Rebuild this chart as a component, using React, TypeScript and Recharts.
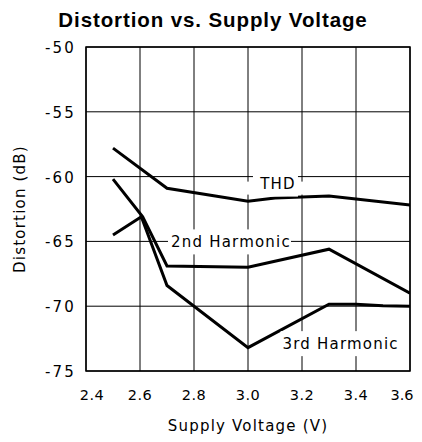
import React from 'react';
import { LineChart, Line, XAxis, YAxis, CartesianGrid, ReferenceArea, ReferenceDot } from 'recharts';

const xTicks = [2.4, 2.6, 2.8, 3.0, 3.2, 3.4, 3.6];
const yTicks = [-75, -70, -65, -60, -55, -50];

const thdX = [2.5, 2.7, 3.0, 3.1, 3.3, 3.6];
const thdY = [-57.8, -60.9, -61.9, -61.65, -61.5, -62.2];

const h2X = [2.5, 2.61, 2.7, 3.0, 3.3, 3.6];
const h2Y = [-60.2, -63.1, -66.9, -67.0, -65.6, -69.0];

const h3X = [2.5, 2.605, 2.7, 3.0, 3.3, 3.4, 3.5, 3.6];
const h3Y = [-64.5, -63.1, -68.4, -73.2, -69.85, -69.85, -69.97, -70.0];

const labelNames = ['THD', '2nd Harmonic', '3rd Harmonic'];
const labelX = [3.111, 2.937, 3.343];
const labelY = [-60.54, -65.0, -72.85];

const toData = (xs: number[], ys: number[]) => xs.map((x, i) => ({ x, y: ys[i] }));
const thdData = toData(thdX, thdY);
const h2Data = toData(h2X, h2Y);
const h3Data = toData(h3X, h3Y);

const FONT = "'DejaVu Sans', sans-serif";
const textStyle = { fontFamily: FONT, fontSize: 15, letterSpacing: 1.2, fill: '#000' } as const;

const XTick = (p: any) => {
  const v = p.payload.value;
  const isFirst = Math.abs(v - 2.4) < 1e-6;
  const isLast = Math.abs(v - 3.6) < 1e-6;
  const style = { ...textStyle, fontSize: 14.5, letterSpacing: isLast ? 0 : 0.4 };
  if (isLast) {
    return (
      <text x={p.x + 3.5} y={p.y} dy={29} textAnchor="end" style={style}>
        {Number(v).toFixed(1)}
      </text>
    );
  }
  return (
    <text x={p.x + (isFirst ? 6 : 0)} y={p.y} dy={29} textAnchor="middle" style={style}>
      {Number(v).toFixed(1)}
    </text>
  );
};

const YTick = (p: any) => (
  <text x={p.x + 1} y={p.y} dy={6} textAnchor="end" style={{ ...textStyle, letterSpacing: 2.2 }}>
    {String(p.payload.value)}
  </text>
);

const labelRects: Array<Array<[number, number, number, number]>> = [
  [[-25, -11, 45, 24], [-33, -2, 60, 13]],
  [[-63, -12, 123, 25]],
  [[-60, -12, 121, 25]],
];

const makeLabel = (idx: number) => (p: any) => {
  const cx = p.cx;
  const cy = p.cy;
  return (
    <g>
      {labelRects[idx].map((r, i) => (
        <rect key={i} x={cx + r[0]} y={cy + r[1]} width={r[2]} height={r[3]} fill="#fff" />
      ))}
      <text x={cx} y={cy} dy={5.5} textAnchor="middle" style={textStyle}>
        {labelNames[idx]}
      </text>
    </g>
  );
};

export default function App() {
  return (
    <div style={{ position: 'relative', width: 414, height: 426, overflow: 'visible' }}>
      <style>{`.recharts-wrapper, .recharts-surface { overflow: visible !important; }`}</style>
      <div
        style={{
          position: 'absolute',
          top: 1,
          left: -2,
          width: 414,
          textAlign: 'center',
          fontFamily: "'Liberation Sans', Arial, sans-serif",
          fontWeight: 'bold',
          fontSize: 20.5,
          lineHeight: '21px',
          letterSpacing: 0.9,
          color: '#000',
        }}
      >
        Distortion vs. Supply Voltage
      </div>
      <div
        style={{
          position: 'absolute',
          left: 11.5,
          top: 200.5,
          transform: 'translate(-50%, -50%) rotate(-90deg)',
          whiteSpace: 'nowrap',
          fontFamily: FONT,
          fontSize: 15,
          lineHeight: '15px',
          letterSpacing: 1.2,
          color: '#000',
        }}
      >
        Distortion (dB)
      </div>
      <div
        style={{
          position: 'absolute',
          left: 240,
          top: 411,
          transform: 'translateX(-50%)',
          whiteSpace: 'nowrap',
          fontFamily: FONT,
          fontSize: 15,
          lineHeight: '15px',
          letterSpacing: 1.2,
          color: '#000',
        }}
      >
        Supply Voltage (V)
      </div>
      <LineChart width={414} height={426} margin={{ top: 39, right: 12, left: 0, bottom: 33 }} style={{ overflow: 'visible' }}>
        <CartesianGrid stroke="#000" strokeWidth={1} />
        <XAxis
          type="number"
          dataKey="x"
          domain={[2.4, 3.6]}
          ticks={xTicks}
          allowDataOverflow
          axisLine={false}
          tickLine={false}
          tickSize={0}
          tickMargin={0}
          height={30}
          tick={<XTick />}
          interval={0}
        />
        <YAxis
          type="number"
          domain={[-75, -50]}
          ticks={yTicks}
          allowDataOverflow
          axisLine={false}
          tickLine={false}
          tickSize={0}
          tickMargin={11}
          width={78}
          tick={<YTick />}
          interval={0}
        />
        <ReferenceArea x1={2.4} x2={3.6} y1={-75} y2={-50} fill="none" stroke="#000" strokeWidth={1.5} fillOpacity={0} />
        <Line data={thdData} dataKey="y" stroke="#000" strokeWidth={3} dot={false} isAnimationActive={false} />
        <Line data={h2Data} dataKey="y" stroke="#000" strokeWidth={3} dot={false} isAnimationActive={false} />
        <Line data={h3Data} dataKey="y" stroke="#000" strokeWidth={3} dot={false} isAnimationActive={false} />
        {labelNames.map((n, i) => (
          <ReferenceDot key={n} x={labelX[i]} y={labelY[i]} r={1} shape={makeLabel(i)} />
        ))}
      </LineChart>
    </div>
  );
}
